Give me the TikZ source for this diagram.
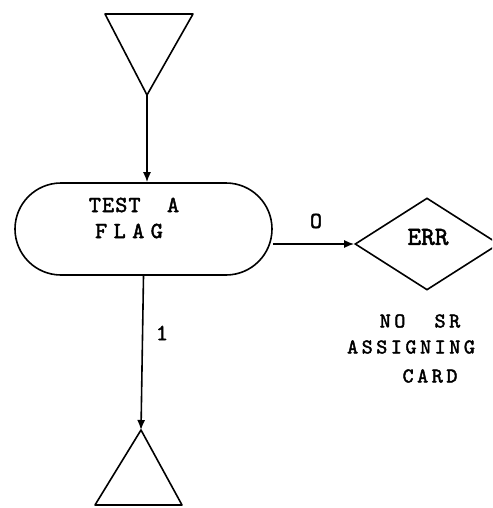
\documentclass[tikz,border=0pt]{standalone}
\usepackage{fontspec}
\newfontfamily\typfont{lmmono10-regular}[Extension=.otf, FakeBold=2]
\usetikzlibrary{shapes.geometric,arrows.meta}
\tikzset{
  txt/.style={font=\typfont\fontsize{21}{24}\selectfont\addfontfeatures{LetterSpace=17}, inner sep=0pt},
  txtbig/.style={font=\typfont\fontsize{23}{26}\selectfont\addfontfeatures{LetterSpace=5}, inner sep=0pt},
  txtwide/.style={font=\typfont\fontsize{23}{26}\selectfont\addfontfeatures{LetterSpace=28}, inner sep=0pt},
  txterr/.style={font=\typfont\fontsize{26}{28}\selectfont, inner sep=0pt},
  ln/.style={line width=1.6pt},
  arr/.style={ln, -{Latex[length=10pt,width=8pt]}}
}
\begin{document}
\begin{tikzpicture}[x=1pt,y=-1pt]
\useasboundingbox (0,0) rectangle (492,508);
\clip (0,0) rectangle (492,508);
% top triangle
\coordinate (ta) at (105,14);
\coordinate (tb) at (193,14);
\coordinate (ttip) at (147,95);
\draw[ln, line join=round] (ta) -- (tb) -- (ttip) -- cycle;
% terminal
\node[draw, ln, rounded corners=46pt, minimum width=257pt, minimum height=92pt, inner sep=0pt] (term) at (143.5,229) {};
\node[txtbig] (t1) at (134,205) {TEST\ \ A};
\node[txtwide] (t2) at (129,231) {FLAG};
% error diamond
\node[draw, ln, diamond, aspect=1.565, minimum width=144pt, minimum height=92pt, inner sep=0pt] (err) at (427,244) {};
\node[txterr] (e1) at (428,237) {ERR};
\node[txt] (n1) at (420,321) {NO\ \ SR};
\node[txt] (n2) at (411,347) {ASSIGNING};
\node[txt] (n3) at (430,376) {CARD};
% bottom triangle
\coordinate (btip) at (141,430);
\coordinate (bl) at (95,505);
\coordinate (br) at (182,505);
\draw[ln, line join=round] (btip) -- (br) -- (bl) -- cycle;
% connectors
\draw[arr] (ttip) -- (ttip |- term.north);
\draw[arr] (term.south) -- (btip);
\draw[arr] (err.west -| term.east) -- (err.west);
\node[txtbig] (lo) at (316,221) {O};
\node[txtbig] (lone) at (162,333) {1};
\end{tikzpicture}
\end{document}
